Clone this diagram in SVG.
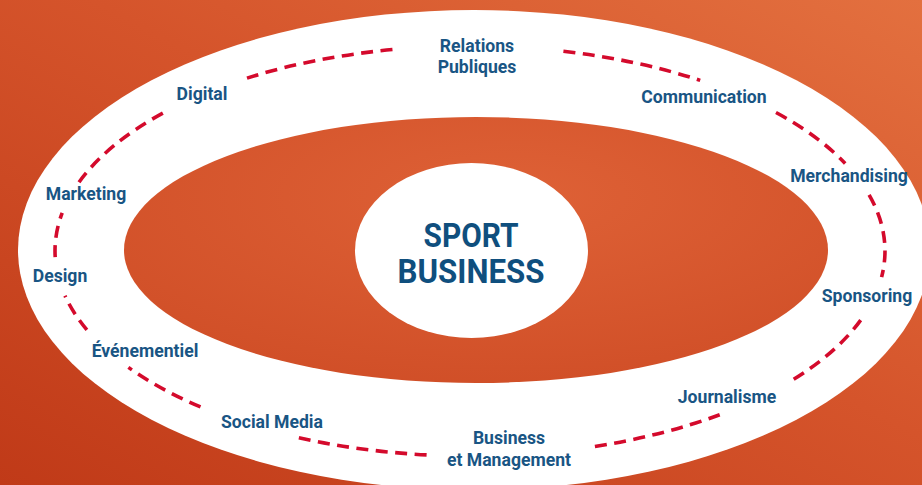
<svg xmlns="http://www.w3.org/2000/svg" width="922" height="485" viewBox="0 0 922 485">
  <defs>
    <linearGradient id="bg" x1="1" y1="0" x2="0" y2="1">
      <stop offset="0" stop-color="#e3703f"/>
      <stop offset="0.45" stop-color="#d5542b"/>
      <stop offset="1" stop-color="#c03a18"/>
    </linearGradient>
    <radialGradient id="inner" cx="0.55" cy="0.3" r="0.8">
      <stop offset="0" stop-color="#de6136"/>
      <stop offset="1" stop-color="#cf4d26"/>
    </radialGradient>
    <linearGradient id="tick" x1="0" y1="0" x2="1" y2="0">
      <stop offset="0" stop-color="#c9472a"/>
      <stop offset="1" stop-color="#c9472a" stop-opacity="0"/>
    </linearGradient>
    <style>
      .lbl { font-family: Roboto, "Liberation Sans", sans-serif; font-weight: 700; font-size: 17.6px; fill: #195584; text-anchor: middle; }
      .title { font-family: Roboto, "Liberation Sans", sans-serif; font-weight: 700; font-size: 33px; fill: #0f4f7e; text-anchor: middle; }
      .dash { fill: none; stroke: #d40a2c; stroke-width: 3.6; stroke-dasharray: 12 7.5; }
    </style>
  </defs>

  <rect id="background" x="0" y="0" width="922" height="485" fill="url(#bg)"/>
  <ellipse id="outer-ring" cx="474" cy="250" rx="456" ry="240" fill="#ffffff"/>
  <ellipse id="inner-field" cx="476" cy="250" rx="352" ry="133" fill="url(#inner)"/>
  <line x1="18" y1="249" x2="72" y2="249" stroke="url(#tick)" stroke-width="1.6"/>

  <g id="connectors">
    <path class="dash" d="M 55.2 257.1 A 415 205 0 0 1 62.2 212.9"/>
    <path class="dash" d="M 79.0 182.2 A 415 205 0 0 1 164.0 112.5"/>
    <path class="dash" d="M 247.0 78.1 A 415 205 0 0 1 394.4 49.4"/>
    <path class="dash" d="M 563.4 51.3 A 415 205 0 0 1 700.2 80.4"/>
    <path class="dash" d="M 776.0 112.5 A 415 205 0 0 1 845.2 163.4"/>
    <path class="dash" d="M 869.1 194.8 A 415 205 0 0 1 881.6 277.1"/>
    <path class="dash" d="M 860.7 320.1 A 415 205 0 0 1 790.2 381.4"/>
    <path class="dash" d="M 719.7 414.7 A 415 205 0 0 1 589.3 447.3"/>
    <path class="dash" d="M 426.6 454.9 A 415 205 0 0 1 297.2 437.4"/>
    <path class="dash" d="M 200.5 406.9 A 415 205 0 0 1 128.4 367.4"/>
    <path class="dash" d="M 86.9 329.8 A 415 205 0 0 1 65.0 295.7"/>
  </g>

  <g id="sport-business">
    <ellipse cx="471.5" cy="250.5" rx="116.5" ry="87.5" fill="#ffffff"/>
    <text class="title" x="471" y="247" textLength="95" lengthAdjust="spacingAndGlyphs">SPORT</text>
    <text class="title" x="471" y="283" textLength="147" lengthAdjust="spacingAndGlyphs">BUSINESS</text>
  </g>

  <g id="relations-publiques"><text class="lbl" x="477" y="52">Relations</text><text class="lbl" x="477" y="73">Publiques</text></g>
  <g id="digital"><text class="lbl" x="202" y="100">Digital</text></g>
  <g id="marketing"><text class="lbl" x="86" y="200">Marketing</text></g>
  <g id="design"><text class="lbl" x="60" y="282">Design</text></g>
  <g id="evenementiel"><text class="lbl" x="145" y="357">Événementiel</text></g>
  <g id="social-media"><text class="lbl" x="272" y="428">Social Media</text></g>
  <g id="business-management"><text class="lbl" x="509" y="444">Business</text><text class="lbl" x="509" y="466">et Management</text></g>
  <g id="journalisme"><text class="lbl" x="727" y="403">Journalisme</text></g>
  <g id="sponsoring"><text class="lbl" x="867" y="302">Sponsoring</text></g>
  <g id="merchandising"><text class="lbl" x="849" y="182">Merchandising</text></g>
  <g id="communication"><text class="lbl" x="704" y="103">Communication</text></g>
</svg>
